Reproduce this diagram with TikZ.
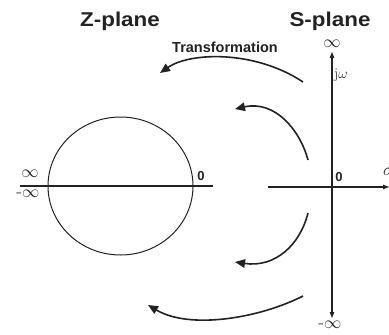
\documentclass[tikz,border=0pt]{standalone}
\usepackage{fontspec}
\usepackage{graphicx}
\usetikzlibrary{arrows.meta}
\newfontfamily\hvfont{Liberation Sans}
\definecolor{ink}{HTML}{222222}
\tikzset{
  title/.style={font=\hvfont\bfseries\fontsize{20}{24}\selectfont, text=ink, anchor=base, inner sep=0pt},
  smalllab/.style={font=\hvfont\bfseries\fontsize{13}{15}\selectfont, text=ink, anchor=base, inner sep=0pt},
  inflab/.style={font=\fontsize{19}{22}\selectfont, text=ink, inner sep=0pt},
  serlab/.style={font=\fontsize{15}{17}\selectfont, text=ink, inner sep=0pt},
  maparrow/.style={draw=ink, line width=1.6pt, -{Triangle[length=10pt,width=8.5pt]}},
  axis/.style={draw=ink, line width=1.1pt},
  axisarrow/.style={axis, -{Triangle[length=6pt,width=4.5pt]}},
}
\begin{document}
\begin{tikzpicture}[x=1pt,y=-1pt]
\useasboundingbox (0,0) rectangle (389,335);

% titles
\node[title] (zt) at (120,26) {\scalebox{1.12}[1]{Z-plane}};
\node[title] (st) at (330,26) {\scalebox{1.12}[1]{S-plane}};
\node[font=\hvfont\bfseries\fontsize{14.5}{17}\selectfont, text=ink, anchor=base, inner sep=0pt] (tr) at (225,52) {Transformation};

% Z-plane
\draw[ink, line width=1pt] (120.5,186) ellipse [x radius=72.5, y radius=69];
\coordinate (zl) at (20,186);
\coordinate (zr) at (213,186);
\draw[axis] (zl) -- (zr);
\node[smalllab] (z0) at (201,180) {0};
\node[inflab] (zinf) at (30,174) {$\infty$};
\node[inflab] (zminf) at (28,194) {-$\infty$};

% S-plane
\coordinate (sl) at (268,187);
\coordinate (sr) at (389,187);
\coordinate (sb) at (332,318);
\coordinate (stp) at (332,52);
\draw[axisarrow] (sl) -- (sr);
\draw[axisarrow] (332,187) -- (stp);
\draw[axisarrow] (332,187) -- (sb);
\node[smalllab] (s0) at (339,181) {0};
\node[inflab] (sinf) at (332,43.5) {$\infty$};
\node[inflab] (sminf) at (330,325) {-$\infty$};
\node[serlab, anchor=west] (jw) at (334,75) {j$\omega$};
\node[font=\fontsize{16}{18}\selectfont, text=ink, inner sep=0pt, anchor=west] (sig) at (383,172) {$\sigma$};

% mapping arrows
\coordinate (a1s) at (303,82);  \coordinate (a1e) at (160,73);
\coordinate (a2s) at (308,160); \coordinate (a2e) at (235,109);
\coordinate (a3s) at (308,213); \coordinate (a3e) at (235,262);
\coordinate (a4s) at (303,296); \coordinate (a4e) at (148,305);
\draw[maparrow] (a1s) .. controls (255,50) and (190,52) .. (a1e);
\draw[maparrow] (a2s) .. controls (300,130) and (275,100) .. (a2e);
\draw[maparrow] (a3s) .. controls (300,245) and (275,268) .. (a3e);
\draw[maparrow] (a4s) .. controls (260,318) and (190,330) .. (a4e);
\end{tikzpicture}
\end{document}
